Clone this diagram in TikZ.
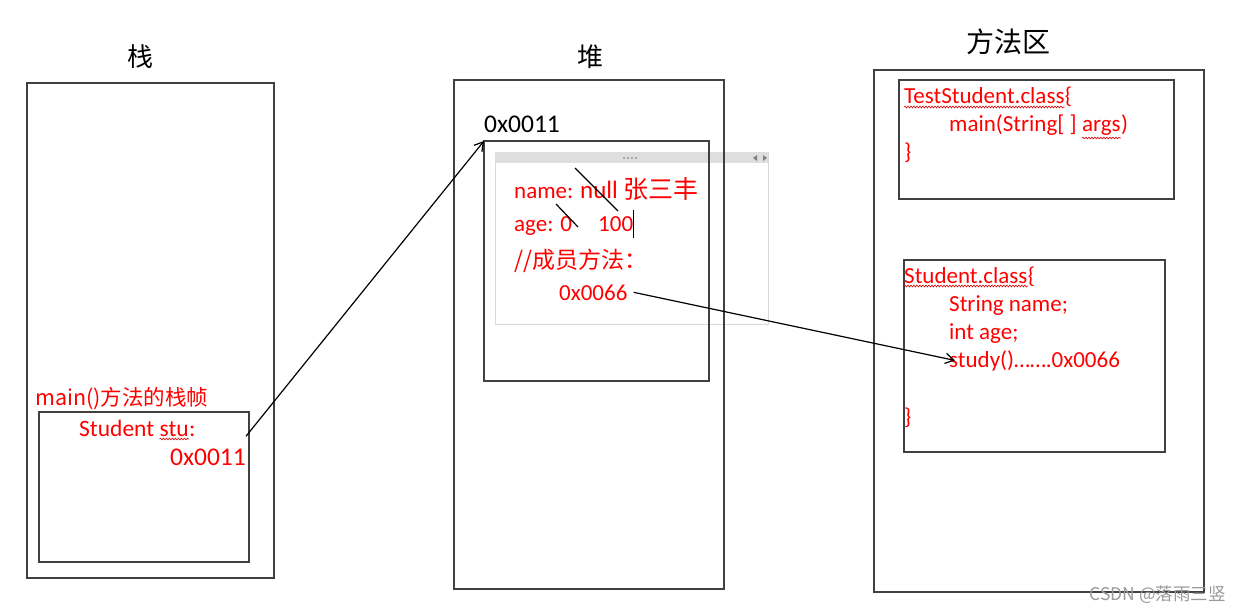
\documentclass[tikz,border=0pt]{standalone}
\usepackage{fontspec}
\setmainfont{Carlito}
\newfontfamily\cjk{Noto Sans CJK SC}
\usepackage{tikz}
\usetikzlibrary{arrows.meta,positioning,decorations.pathmorphing}
\definecolor{rahmen}{HTML}{404040}
\definecolor{leiste}{HTML}{DEDEDE}
\definecolor{fenster}{HTML}{D9D9D9}

\begin{document}
\begin{tikzpicture}[x=1pt,y=-1pt,
  kasten/.style={draw=rahmen,line width=1.8pt,inner sep=0pt,outer sep=0pt,anchor=north west},
  titel/.style={font=\cjk\fontsize{26}{30}\selectfont,inner sep=0pt},
  rot/.style={text=red,inner sep=0pt,anchor=base west,font=\fontsize{23}{28}\selectfont},
  welle/.style={draw=red!85!black,line width=0.6pt,decorate,
    decoration={snake,amplitude=0.9pt,segment length=3pt}},
  pfeil/.style={-{Straight Barb[length=3mm,width=3.6mm]},line width=1.2pt}]
\useasboundingbox (0,0) rectangle (1241,612);
% titles
\node[titel] (tStack) at (140,57) {栈};
\node[titel] (tHeap) at (590,57) {堆};
\node[titel,font=\cjk\fontsize{28}{32}\selectfont] (tMethod) at (1008,42) {方法区};
% popup panel over the object
\draw[draw=fenster,line width=0.8pt] (495,152) rectangle (768,324);
\fill[leiste] (495.4,152.4) rectangle (767.6,163);
\foreach \px in {624,628,632,636}
  \fill[black!55] (\px,158) circle (0.8pt);
\fill[black!50] (753,158) -- (757,155) -- (757,161) -- cycle;
\fill[black!50] (767,158) -- (763,155) -- (763,161) -- cycle;
% boxes
\node[kasten,minimum width=247pt,minimum height=495pt] (stack) at (27,83) {};
\node[kasten,minimum width=210pt,minimum height=150pt] (frame) at (39,412) {};
\node[kasten,minimum width=270pt,minimum height=509pt] (heap) at (454,80) {};
\node[kasten,minimum width=225pt,minimum height=240pt] (obj) at (484,141) {};
\node[kasten,minimum width=330pt,minimum height=522pt] (method) at (874,70) {};
\node[kasten,minimum width=275pt,minimum height=119pt] (testcls) at (899,80) {};
\node[kasten,minimum width=261pt,minimum height=192pt] (stucls) at (904,260) {};
% stack frame
\node[rot,font=\cjk\fontsize{21.5}{25}\selectfont] (frameLbl) at (35,405) {main()方法的栈帧};
\node[rot,font=\fontsize{23.5}{28}\selectfont] (stuType) at (79,436) {Student};
\node[rot,font=\fontsize{23.5}{28}\selectfont] (stuVar) at ([xshift=5pt]stuType.base east) {stu};
\node[rot,font=\fontsize{23.5}{28}\selectfont] (stuColon) at (stuVar.base east) {:};
\draw[welle] ([yshift=-3pt]stuVar.base west) -- ([yshift=-3pt]stuVar.base east);
\node[rot,anchor=base east,font=\fontsize{25.5}{30}\selectfont] (ptr) at (246,465) {0x0011};
% heap object
\node[anchor=base west,inner sep=0pt,font=\fontsize{25.5}{30}\selectfont] (addrObj) at (484,133) {0x0011};
\node[rot] (fName) at (514,199) {name: {\fontsize{25}{30}\selectfont null \cjk 张三丰}};
\node[rot] (fAge) at (514,232) {age: 0};
\node[rot] (fAgeNew) at (598,232) {100};
\node[rot,font=\cjk\fontsize{23}{28}\selectfont] (fMeth) at (514,268) {//成员方法：};
\node[rot] (addrMeth) at (559,300) {0x0066};
\draw[line width=1.2pt] (575,168) -- (618,211);
\draw[line width=1.2pt] (556,204) -- (578,227);
\draw[line width=0.8pt] (633,210) -- (633,238);
% method area
\node[rot] (tcName) at (904,104) {TestStudent.class};
\node[rot] (tcOpen) at (tcName.base east) {\{};
\draw[welle] ([yshift=-3pt]tcName.base west) -- ([yshift=-3pt]tcName.base east);
\node[rot] (tcMain) at (949,132) {main(String[ ]};
\node[rot] (tcArgs) at ([xshift=5pt]tcMain.base east) {args};
\node[rot] (tcParen) at (tcArgs.base east) {)};
\draw[welle] ([yshift=-6pt]tcArgs.base west) -- ([yshift=-6pt]tcArgs.base east);
\node[rot] (tcEnd) at (904,160) {\}};
\node[rot] (scName) at (904,283) {Student.class};
\node[rot] (scOpen) at (scName.base east) {\{};
\draw[welle] ([yshift=-3pt]scName.base west) -- ([yshift=-3pt]scName.base east);
\node[rot] (scField) at (949,311) {String name;};
\node[rot] (scAge) at (949,339) {int age;};
\node[rot] (scStudy) at (949,367) {study()…….0x0066};
\node[rot] (scEnd) at (904,424) {\}};
% references
\draw[pfeil] ([yshift=12pt]ptr.north east) -- (obj.north west);
\draw[pfeil] ([xshift=6pt]addrMeth.east) -- ([xshift=6pt]scStudy.west);
\node[anchor=base east,inner sep=0pt,text=black!40,font=\cjk\fontsize{17.5}{20}\selectfont] (mark) at (1226,600) {CSDN @落雨三竖};
\end{tikzpicture}
\end{document}
